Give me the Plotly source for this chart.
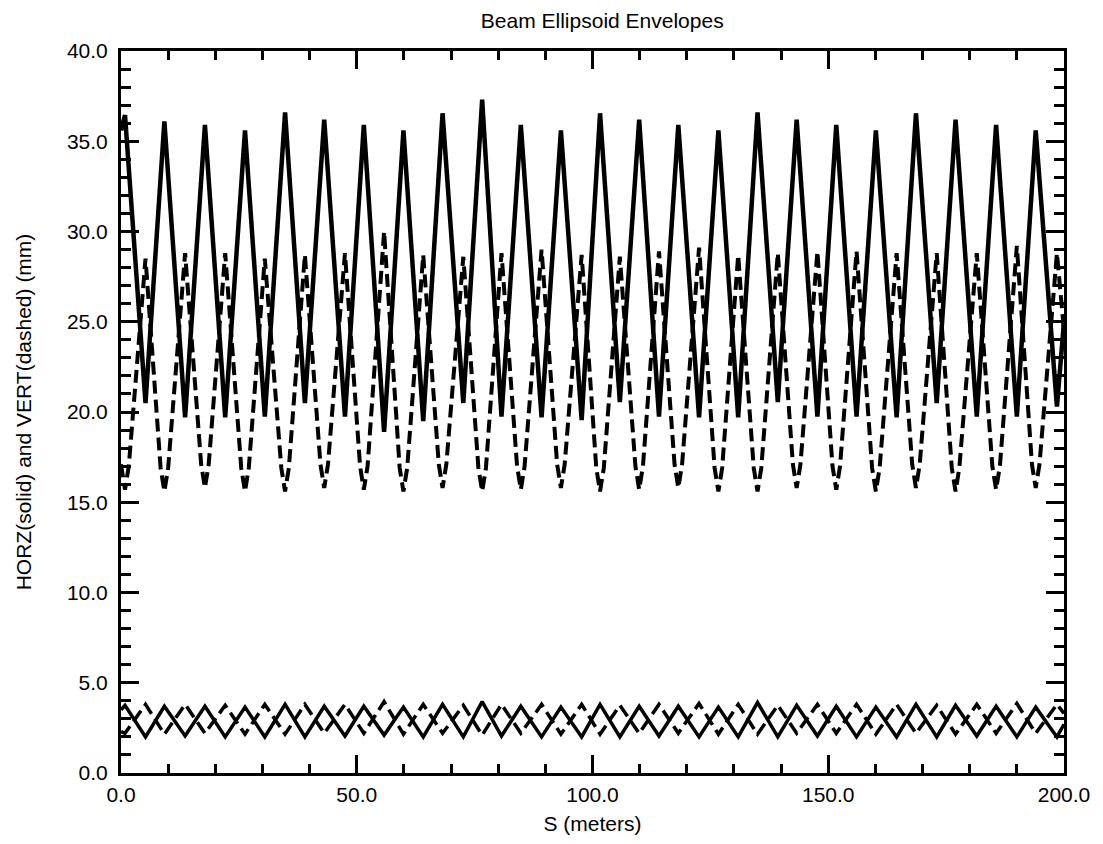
import plotly.graph_objects as go

# ---- Horizontal envelope, large beam (solid): corners of the sawtooth ----
horz_s = [0.0, 0.85, 5.2, 9.2, 13.6, 17.8, 22.1, 26.3, 30.5, 34.8, 39.0, 43.1, 47.5,
          51.5, 55.8, 59.9, 64.1, 68.2, 72.6, 76.6, 80.7, 84.8, 89.2, 93.3, 97.7,
          101.6, 105.8, 109.9, 114.1, 118.2, 122.6, 126.7, 130.9, 135.0, 139.3,
          143.3, 147.7, 151.7, 156.0, 160.1, 164.5, 168.6, 173.0, 177.0, 181.5,
          185.6, 190.0, 194.0, 198.5, 200.0]
horz_mm = [35.6, 36.45, 20.5, 36.1, 19.7, 35.9, 19.7, 35.6, 19.75, 36.6, 20.5, 36.2, 19.75,
           35.9, 18.9, 35.6, 19.5, 36.55, 20.5, 37.3, 19.75, 35.9, 19.7, 35.6, 19.55,
           36.55, 20.55, 36.2, 19.75, 35.9, 19.7, 35.6, 19.7, 36.6, 20.55,
           36.2, 19.75, 35.9, 19.75, 35.6, 19.7, 36.55, 20.5, 36.2, 19.75,
           35.9, 19.75, 35.6, 20.3, 25.0]

# ---- Vertical envelope, large beam (dashed): rounded troughs, sharp crests ----
vert_s = [0.0, 0.85, 1.65, 5.2,
          8.4, 9.2, 10.0, 13.6,
          17.0, 17.8, 18.6, 22.1,
          25.5, 26.3, 27.1, 30.5,
          34.0, 34.8, 35.6, 39.0,
          42.3, 43.1, 43.9, 47.5,
          50.7, 51.5, 52.3, 55.8,
          59.1, 59.9, 60.7, 64.1,
          67.4, 68.2, 69.0, 72.6,
          75.8, 76.6, 77.4, 80.7,
          84.0, 84.8, 85.6, 89.2,
          92.5, 93.3, 94.1, 97.7,
          100.8, 101.6, 102.4, 105.8,
          109.1, 109.9, 110.7, 114.1,
          117.4, 118.2, 119.0, 122.6,
          125.9, 126.7, 127.5, 130.9,
          134.2, 135.0, 135.8, 139.3,
          142.5, 143.3, 144.1, 147.7,
          150.9, 151.7, 152.5, 156.0,
          159.3, 160.1, 160.9, 164.5,
          167.8, 168.6, 169.4, 173.0,
          176.2, 177.0, 177.8, 181.5,
          184.8, 185.6, 186.4, 190.0,
          193.2, 194.0, 194.8, 198.5,
          200.0]
vert_mm = [17.1, 15.7, 17.0, 28.5,
           16.9, 15.6, 16.9, 28.8,
           17.1, 15.8, 17.1, 28.8,
           16.9, 15.6, 16.9, 28.5,
           16.9, 15.6, 16.9, 28.7,
           17.1, 15.8, 17.1, 28.8,
           17.0, 15.7, 17.0, 30.0,
           16.9, 15.6, 16.9, 28.7,
           17.1, 15.8, 17.1, 28.6,
           16.9, 15.6, 16.9, 28.8,
           17.0, 15.7, 17.0, 29.0,
           17.1, 15.8, 17.1, 28.7,
           16.9, 15.6, 16.9, 28.6,
           17.0, 15.7, 17.0, 28.9,
           17.1, 15.8, 17.1, 29.1,
           16.9, 15.6, 16.9, 28.7,
           16.9, 15.6, 16.9, 28.8,
           17.1, 15.8, 17.1, 28.9,
           17.0, 15.7, 17.0, 28.9,
           16.9, 15.6, 16.9, 28.8,
           17.1, 15.8, 17.1, 28.8,
           16.9, 15.6, 16.9, 28.8,
           17.0, 15.7, 17.0, 29.2,
           17.1, 15.8, 17.1, 28.8,
           24.5]

# ---- Small beam near the axis (horizontal solid, vertical dashed) ----
small_s = horz_s
small_horz_mm = [3.5, 3.75, 2.0, 3.7, 2.05, 3.7, 2.0, 3.65, 2.0, 3.8, 2.0, 3.7, 2.05,
                 3.7, 2.1, 3.65, 2.0, 3.8, 2.0, 3.95, 2.05, 3.7, 2.0, 3.65, 2.0,
                 3.8, 2.0, 3.7, 2.05, 3.7, 2.0, 3.65, 2.0, 3.9, 2.0,
                 3.75, 2.05, 3.7, 2.0, 3.65, 2.0, 3.8, 2.0, 3.75, 2.05,
                 3.7, 2.0, 3.65, 2.0, 2.7]
small_vert_mm = [2.3, 2.2, 3.8, 2.15, 3.8, 2.2, 3.75, 2.15, 3.8, 2.15, 3.8, 2.2, 3.8,
                 2.2, 3.95, 2.15, 3.8, 2.2, 3.75, 2.1, 3.8, 2.2, 3.8, 2.15, 3.8,
                 2.15, 3.75, 2.2, 3.8, 2.2, 3.85, 2.15, 3.8, 2.15, 3.75,
                 2.2, 3.8, 2.2, 3.8, 2.15, 3.8, 2.2, 3.75, 2.15, 3.8,
                 2.2, 3.85, 2.2, 3.8, 3.3]

x_ticks = [0, 50, 100, 150, 200]
x_labels = ["0.0", "50.0", "100.0", "150.0", "200.0"]
y_ticks = [0, 5, 10, 15, 20, 25, 30, 35, 40]
y_labels = ["0.0", "5.0", "10.0", "15.0", "20.0", "25.0", "30.0", "35.0", "40.0"]

FONT = "Liberation Sans, Arial, Helvetica, sans-serif"
DASH = "13px,6px"

fig = go.Figure()
fig.add_trace(go.Scatter(x=horz_s, y=horz_mm, mode="lines",
                         line=dict(color="black", width=4.5)))
fig.add_trace(go.Scatter(x=vert_s, y=vert_mm, mode="lines",
                         line=dict(color="black", width=4, dash=DASH)))
fig.add_trace(go.Scatter(x=small_s, y=small_horz_mm, mode="lines",
                         line=dict(color="black", width=3.5)))
fig.add_trace(go.Scatter(x=small_s, y=small_vert_mm, mode="lines",
                         line=dict(color="black", width=3.5, dash=DASH)))

axis_common = dict(
    showgrid=False, zeroline=False,
    showline=True, linecolor="black", linewidth=3, mirror="allticks",
    ticks="inside", tickcolor="black", tickwidth=3, ticklen=18,
    tickfont=dict(family=FONT, size=21, color="black"),
)

fig.update_xaxes(
    range=[0, 200], tickvals=x_ticks, ticktext=x_labels,
    minor=dict(dtick=10, ticks="inside", ticklen=9, tickwidth=3, tickcolor="black"),
    title=dict(text="S (meters)", font=dict(family=FONT, size=21, color="black"), standoff=12),
    ticklabelstandoff=1,
    **axis_common,
)
fig.update_yaxes(
    range=[0, 40], tickvals=y_ticks, ticktext=y_labels,
    minor=dict(dtick=1, ticks="inside", ticklen=10, tickwidth=3, tickcolor="black"),
    title=dict(text="HORZ(solid) and VERT(dashed) (mm)",
               font=dict(family=FONT, size=21, color="black"), standoff=30),
    ticklabelstandoff=6,
    **axis_common,
)

fig.update_layout(
    width=1103, height=844,
    margin=dict(l=121, r=39, t=51, b=71),
    paper_bgcolor="white", plot_bgcolor="white",
    showlegend=False,
    title=dict(text="Beam Ellipsoid Envelopes", x=0.546, xanchor="center",
               xref="container", y=0.976, yref="container", yanchor="middle",
               font=dict(family=FONT, size=21, color="black")),
)

fig.write_html("out.html")
